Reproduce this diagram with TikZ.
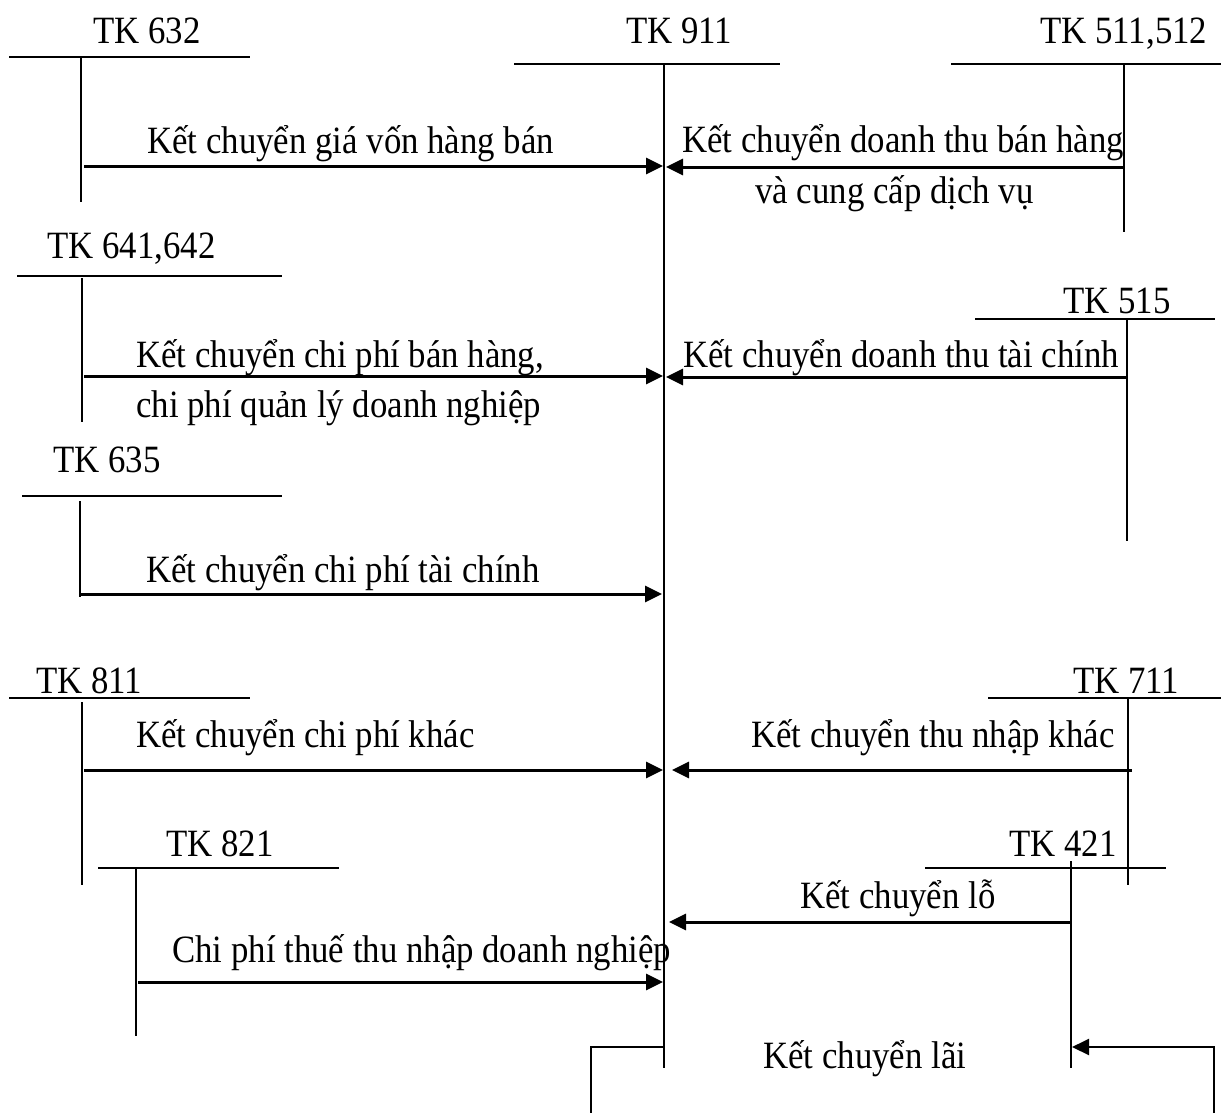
\documentclass[tikz,border=0pt]{standalone}
\usepackage{fontspec}
\setmainfont[FakeStretch=0.9]{Liberation Serif}
\usetikzlibrary{arrows.meta}
\begin{document}
\begin{tikzpicture}[x=0.02cm,y=-0.02cm,
  tline/.style={line width=0.04cm},
  flow/.style={line width=0.06cm,-{Triangle[length=0.34cm,width=0.32cm]}},
  lbl/.style={anchor=base west,inner sep=0pt,font=\fontsize{22}{26}\selectfont}]
\useasboundingbox (0,0) rectangle (1221,1113);
% ---------- TK 911 ----------
\node[lbl] (t911) at (626,43) {TK 911};
\coordinate (c911L) at (514,64); \coordinate (c911R) at (780,64);
\coordinate (c911T) at (664,64); \coordinate (c911B) at (664,1068);
\draw[tline] (c911L) -- (c911R); \draw[tline] (c911T) -- (c911B);
% ---------- TK 632 ----------
\node[lbl] (t632) at (93,43) {TK 632};
\coordinate (c632L) at (9,57); \coordinate (c632R) at (250,57);
\coordinate (c632T) at (81,57); \coordinate (c632B) at (81,202);
\draw[tline] (c632L) -- (c632R); \draw[tline] (c632T) -- (c632B);
\coordinate (f1s) at (84,166); \coordinate (f1e) at (663,166);
\draw[flow] (f1s) -- (f1e);
\node[lbl] (l1) at (147,153) {Kết chuyển giá vốn hàng bán};
% ---------- TK 511,512 ----------
\node[lbl] (t511) at (1040,43) {TK 511,512};
\coordinate (c511L) at (951,64); \coordinate (c511R) at (1221,64);
\coordinate (c511T) at (1124,64); \coordinate (c511B) at (1124,232);
\draw[tline] (c511L) -- (c511R); \draw[tline] (c511T) -- (c511B);
\coordinate (f2s) at (1124,167); \coordinate (f2e) at (666,167);
\draw[flow] (f2s) -- (f2e);
\node[lbl] (l2a) at (682,152) {Kết chuyển doanh thu bán hàng};
\node[lbl] (l2b) at (755,203) {và cung cấp dịch vụ};
% ---------- TK 641,642 ----------
\node[lbl] (t641) at (47,258) {TK 641,642};
\coordinate (c641L) at (17,276); \coordinate (c641R) at (282,276);
\coordinate (c641T) at (82,278); \coordinate (c641B) at (82,422);
\draw[tline] (c641L) -- (c641R); \draw[tline] (c641T) -- (c641B);
\coordinate (f3s) at (84,376); \coordinate (f3e) at (663,376);
\draw[flow] (f3s) -- (f3e);
\node[lbl] (l3a) at (136,367) {Kết chuyển chi phí bán hàng,};
\node[lbl] (l3b) at (136,417) {chi phí quản lý doanh nghiệp};
% ---------- TK 515 ----------
\node[lbl] (t515) at (1063,313) {TK 515};
\coordinate (c515L) at (975,319); \coordinate (c515R) at (1215,319);
\coordinate (c515T) at (1127,319); \coordinate (c515B) at (1127,541);
\draw[tline] (c515L) -- (c515R); \draw[tline] (c515T) -- (c515B);
\coordinate (f4s) at (1127,377); \coordinate (f4e) at (666,377);
\draw[flow] (f4s) -- (f4e);
\node[lbl] (l4) at (683,367) {Kết chuyển doanh thu tài chính};
% ---------- TK 635 ----------
\node[lbl] (t635) at (53,472) {TK 635};
\coordinate (c635L) at (22,496); \coordinate (c635R) at (282,496);
\coordinate (c635T) at (80,501); \coordinate (c635B) at (80,597);
\draw[tline] (c635L) -- (c635R); \draw[tline] (c635T) -- (c635B);
\coordinate (f5s) at (80,594); \coordinate (f5e) at (662,594);
\draw[flow] (f5s) -- (f5e);
\node[lbl] (l5) at (146,582) {Kết chuyển chi phí tài chính};
% ---------- TK 811 ----------
\node[lbl] (t811) at (36,693) {TK 811};
\coordinate (c811L) at (9,698); \coordinate (c811R) at (250,698);
\coordinate (c811T) at (82,702); \coordinate (c811B) at (82,885);
\draw[tline] (c811L) -- (c811R); \draw[tline] (c811T) -- (c811B);
\coordinate (f6s) at (84,770); \coordinate (f6e) at (663,770);
\draw[flow] (f6s) -- (f6e);
\node[lbl] (l6) at (136,747) {Kết chuyển chi phí khác};
% ---------- TK 711 ----------
\node[lbl] (t711) at (1073,693) {TK 711};
\coordinate (c711L) at (988,698); \coordinate (c711R) at (1221,698);
\coordinate (c711T) at (1128,698); \coordinate (c711B) at (1128,885);
\draw[tline] (c711L) -- (c711R); \draw[tline] (c711T) -- (c711B);
\coordinate (f7s) at (1132,770); \coordinate (f7e) at (672,770);
\draw[flow] (f7s) -- (f7e);
\node[lbl] (l7) at (751,747) {Kết chuyển thu nhập khác};
% ---------- TK 821 ----------
\node[lbl] (t821) at (166,856) {TK 821};
\coordinate (c821L) at (98,868); \coordinate (c821R) at (339,868);
\coordinate (c821T) at (136,867); \coordinate (c821B) at (136,1036);
\draw[tline] (c821L) -- (c821R); \draw[tline] (c821T) -- (c821B);
\coordinate (f8s) at (138,982); \coordinate (f8e) at (663,982);
\draw[flow] (f8s) -- (f8e);
\node[lbl] (l8) at (172,962) {Chi phí thuế thu nhập doanh nghiệp};
% ---------- TK 421 ----------
\node[lbl] (t421) at (1009,856) {TK 421};
\coordinate (c421L) at (925,868); \coordinate (c421R) at (1166,868);
\coordinate (c421T) at (1071,861); \coordinate (c421B) at (1071,1068);
\draw[tline] (c421L) -- (c421R); \draw[tline] (c421T) -- (c421B);
\coordinate (f9s) at (1071,922); \coordinate (f9e) at (669,922);
\draw[flow] (f9s) -- (f9e);
\node[lbl] (l9) at (800,908) {Kết chuyển lỗ};
% ---------- Ket chuyen lai ----------
\coordinate (p1) at (664,1047); \coordinate (p2) at (591,1047); \coordinate (p3) at (591,1113);
\draw[tline] (p1) -- (p2) -- (p3);
\coordinate (q1) at (1214,1113); \coordinate (q2) at (1214,1047); \coordinate (q3) at (1072,1047);
\draw[tline,-{Triangle[length=0.34cm,width=0.32cm]}] (q1) -- (q2) -- (q3);
\node[lbl] (l10) at (763,1068) {Kết chuyển lãi};
\end{tikzpicture}
\end{document}
